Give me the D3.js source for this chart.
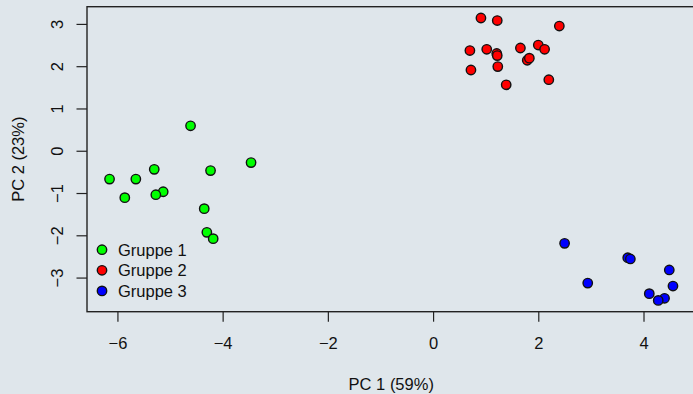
<!DOCTYPE html>
<html>
<head>
<meta charset="utf-8">
<script src="https://cdn.jsdelivr.net/npm/d3@7"></script>
<style>
  body { margin: 0; background: #dfe6eb; }
  svg { display: block; font-family: "Liberation Sans", Arial, sans-serif; }
</style>
</head>
<body>
<svg id="pca" width="693" height="394"></svg>
<script>
// PCA scores
const groups = ["Gruppe 1", "Gruppe 2", "Gruppe 3"];
const groupColors = ["#00ff00", "#ff0000", "#0000ff"];

const pc1Group1 = [-4.61, -3.46, -6.15, -5.65, -5.30, -4.23, -5.86, -5.13, -5.27, -4.35, -4.30, -4.18];
const pc2Group1 = [0.59, -0.28, -0.67, -0.67, -0.44, -0.47, -1.11, -0.97, -1.04, -1.37, -1.93, -2.08];

const pc1Group2 = [0.91, 1.22, 2.40, 0.70, 1.02, 1.21, 1.22, 1.66, 2.00, 2.12, 1.79, 1.83, 0.72, 1.23, 1.39, 2.20];
const pc2Group2 = [3.14, 3.08, 2.95, 2.37, 2.40, 2.30, 2.25, 2.43, 2.50, 2.40, 2.14, 2.19, 1.91, 1.99, 1.56, 1.68];

const pc1Group3 = [2.50, 2.94, 3.70, 3.75, 4.49, 4.56, 4.11, 4.40, 4.28];
const pc2Group3 = [-2.19, -3.13, -2.53, -2.56, -2.82, -3.20, -3.38, -3.49, -3.54];

const xTicks = [-6, -4, -2, 0, 2, 4];
const yTicks = [-3, -2, -1, 0, 1, 2, 3];
const xLabel = "PC 1 (59%)";
const yLabel = "PC 2 (23%)";

const points = [];
[[pc1Group1, pc2Group1], [pc1Group2, pc2Group2], [pc1Group3, pc2Group3]].forEach(([xs, ys], g) => {
  xs.forEach((v, i) => points.push({ x: v, y: ys[i], group: g }));
});

const svg = d3.select("#pca");
const box = { left: 87, right: 695.5, top: 6.7, bottom: 311.7 };
const fontSize = 16.5;

// R style 4% padding of the data range
function padded(ext) {
  const d = (ext[1] - ext[0]) * 0.04;
  return [ext[0] - d, ext[1] + d];
}

const x = d3.scaleLinear()
  .domain(padded(d3.extent(points, d => d.x)))
  .range([box.left, box.right]);

const y = d3.scaleLinear()
  .domain(padded(d3.extent(points, d => d.y)))
  .range([box.bottom, box.top]);

//axes
const xAxis = svg.append("g")
  .attr("transform", `translate(0,${box.bottom})`)
  .call(d3.axisBottom(x).tickValues(xTicks).tickSizeOuter(0).tickSize(10).tickPadding(0));
xAxis.select(".domain").remove();
xAxis.selectAll("line").attr("stroke", "#222").attr("stroke-width", 1.2);
xAxis.selectAll("text")
  .attr("font-size", fontSize)
  .attr("fill", "#111")
  .attr("dy", null)
  .attr("y", 37.5);

const yAxis = svg.append("g")
  .attr("transform", `translate(${box.left},0)`)
  .call(d3.axisLeft(y).tickValues(yTicks).tickSizeOuter(0).tickSize(10.5));
yAxis.select(".domain").remove();
yAxis.selectAll("line").attr("stroke", "#222").attr("stroke-width", 1.2);
yAxis.selectAll("text")
  .attr("font-size", fontSize)
  .attr("fill", "#111")
  .attr("x", null).attr("dy", null)
  .attr("text-anchor", "middle")
  .attr("transform", "translate(-24,0) rotate(-90)");

//box
svg.append("rect")
  .attr("x", box.left).attr("y", box.top)
  .attr("width", box.right - box.left).attr("height", box.bottom - box.top)
  .attr("fill", "none").attr("stroke", "#222").attr("stroke-width", 1.4);

//axis titles
svg.append("text")
  .attr("x", (box.left + box.right) / 2)
  .attr("y", 390)
  .attr("text-anchor", "middle")
  .attr("font-size", fontSize)
  .attr("fill", "#111")
  .text(xLabel);

svg.append("text")
  .attr("transform", `translate(23.5,${(box.top + box.bottom) / 2}) rotate(-90)`)
  .attr("text-anchor", "middle")
  .attr("font-size", fontSize)
  .attr("fill", "#111")
  .text(yLabel);

//points
svg.append("g").selectAll("circle")
  .data(points)
  .join("circle")
  .attr("cx", d => x(d.x))
  .attr("cy", d => y(d.y))
  .attr("r", 4.7)
  .attr("fill", d => groupColors[d.group])
  .attr("stroke", "#111")
  .attr("stroke-width", 1.4);

//legend bottom left
const legend = svg.append("g")
  .attr("transform", `translate(${box.left + 15},${box.bottom - 62})`);
const item = legend.selectAll("g")
  .data(groups)
  .join("g")
  .attr("transform", (d, i) => `translate(0,${i * 20.6})`);
item.append("circle")
  .attr("r", 4.7)
  .attr("fill", (d, i) => groupColors[i])
  .attr("stroke", "#111")
  .attr("stroke-width", 1.4);
item.append("text")
  .attr("x", 16)
  .attr("y", 6)
  .attr("font-size", fontSize)
  .attr("fill", "#111")
  .text(d => d);
</script>
</body>
</html>
